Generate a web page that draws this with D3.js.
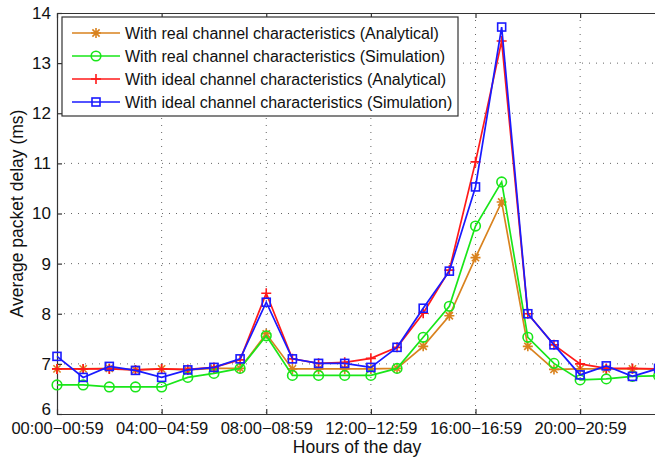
<!DOCTYPE html>
<html><head><meta charset="utf-8">
<script src="https://cdn.jsdelivr.net/npm/d3@7"></script>
<style>body{margin:0;background:#fff}svg{display:block}text{font-family:"Liberation Sans",Arial,sans-serif}</style>
</head><body><svg id="c" width="655" height="459"></svg>
<script>
const hours = d3.range(0,24);
const tickHours = [0,4,8,12,16,20];
const tickLabels = ["00:00\u221200:59","04:00\u221204:59","08:00\u221208:59","12:00\u221212:59","16:00\u221216:59","20:00\u221220:59"];
const yTicks = [6,7,8,9,10,11,12,13,14];
const realAnalytical = [6.9,6.9,6.91,6.88,6.9,6.88,6.91,6.91,7.6,6.9,6.9,6.9,6.9,6.91,7.35,7.96,9.12,10.23,7.35,6.89,6.9,6.9,6.9,6.9];
const realSimulation = [6.58,6.58,6.54,6.54,6.54,6.73,6.81,6.91,7.56,6.77,6.77,6.77,6.77,6.91,7.53,8.15,9.75,10.63,7.53,7.01,6.68,6.7,6.75,6.76];
const idealAnalytical = [6.9,6.9,6.9,6.88,6.9,6.89,6.93,7.08,8.41,7.1,7.01,7.03,7.11,7.33,8.01,8.87,11.03,13.44,8.0,7.38,7.0,6.91,6.91,6.9];
const idealSimulation = [7.15,6.73,6.95,6.87,6.73,6.88,6.93,7.1,8.23,7.1,7.01,7.01,6.93,7.33,8.11,8.85,10.53,13.72,8.0,7.38,6.78,6.96,6.75,6.91];
const seriesNames = ["With real channel characteristics (Analytical)","With real channel characteristics (Simulation)","With ideal channel characteristics (Analytical)","With ideal channel characteristics (Simulation)"];
const seriesColors = ["#d9821e","#19e619","#ff1a1a","#1a1aff"];
const seriesMarkers = ["star","circle","plus","square"];
const seriesData = [realAnalytical, realSimulation, idealAnalytical, idealSimulation];

const svg = d3.select("#c");
const L=57, T=13, R=658.6, B=414;
const x = d3.scaleLinear().domain([0,23]).range([L,R]);
const y = d3.scaleLinear().domain([6,14]).range([B,T]);

// grid
const g = svg.append("g");
g.selectAll(".gx").data(tickHours.slice(1)).enter().append("line")
 .attr("x1",d=>x(d)).attr("x2",d=>x(d)).attr("y1",T).attr("y2",B)
 .attr("stroke","#666").attr("stroke-width",1).attr("stroke-dasharray","1,6");
g.selectAll(".gy").data(yTicks.slice(1,-1)).enter().append("line")
 .attr("x1",L).attr("x2",R).attr("y1",d=>y(d)).attr("y2",d=>y(d))
 .attr("stroke","#666").attr("stroke-width",1).attr("stroke-dasharray","1,6");

// axes
const ax = svg.append("g").attr("transform",`translate(0,${B})`)
 .call(d3.axisBottom(x).tickValues(tickHours).tickFormat((d,i)=>tickLabels[i]).tickSizeInner(-5).tickSizeOuter(0).tickPadding(13));
const ay = svg.append("g").attr("transform",`translate(${L},0)`)
 .call(d3.axisLeft(y).tickValues(yTicks).tickFormat(d3.format("d")).tickSizeInner(-5).tickSizeOuter(0).tickPadding(6));
const at = svg.append("g").attr("transform",`translate(0,${T})`)
 .call(d3.axisTop(x).tickValues(tickHours).tickFormat("").tickSizeInner(-5).tickSizeOuter(0));
[ax,ay,at].forEach(a=>{a.selectAll("path,line").attr("stroke","#333").attr("stroke-width",1.2);
 a.selectAll("text").attr("fill","#111").style("font-size","16.5px").style("font-family","'Liberation Sans',Arial,sans-serif");});
ax.selectAll("text").attr("dy","0.4em");
ay.selectAll("text").style("font-size","17px").attr("dy",d=>d===6?"0em":"0.32em");

// lines
const line = d3.line().x((d,i)=>x(hours[i])).y(d=>y(d));
function marker(sel, type, color){
  if(type==="circle") sel.append("circle").attr("r",4.8).attr("fill","none").attr("stroke",color).attr("stroke-width",1.6);
  else if(type==="square") sel.append("rect").attr("x",-4).attr("y",-4).attr("width",8).attr("height",8).attr("fill","none").attr("stroke",color).attr("stroke-width",1.6);
  else if(type==="plus") sel.append("path").attr("d","M-5,0H5M0,-5V5").attr("stroke",color).attr("stroke-width",1.6);
  else if(type==="star") sel.append("path").attr("d","M-5,0H5M0,-5V5M-3.6,-3.6L3.6,3.6M-3.6,3.6L3.6,-3.6").attr("stroke",color).attr("stroke-width",1.6);
}
seriesData.forEach((data,k)=>{
  const s = svg.append("g");
  s.append("path").datum(data).attr("d",line).attr("fill","none").attr("stroke",seriesColors[k]).attr("stroke-width",1.7);
  s.selectAll("g.m").data(data).enter().append("g").attr("transform",(d,i)=>`translate(${x(hours[i])},${y(d)})`)
   .each(function(){marker(d3.select(this),seriesMarkers[k],seriesColors[k]);});
});

// legend
const lg = svg.append("g");
lg.append("rect").attr("x",62).attr("y",17).attr("width",396).attr("height",99).attr("fill","#fff").attr("stroke","#333").attr("stroke-width",1.2);
seriesNames.forEach((n,k)=>{
  const yy = 33 + k*23;
  lg.append("line").attr("x1",72).attr("x2",120).attr("y1",yy).attr("y2",yy).attr("stroke",seriesColors[k]).attr("stroke-width",1.7);
  const m = lg.append("g").attr("transform",`translate(96,${yy})`);
  marker(m, seriesMarkers[k], seriesColors[k]);
  lg.append("text").attr("x",125).attr("y",yy).attr("dy","0.36em").style("font-size","16px").attr("fill","#111").text(n);
});

// axis titles
svg.append("text").attr("x",357).attr("y",453).attr("text-anchor","middle").style("font-size","17.5px").attr("fill","#111").text("Hours of the day");
svg.append("text").attr("transform",`translate(23,${(T+B)/2}) rotate(-90)`).attr("text-anchor","middle").style("font-size","17.5px").attr("fill","#111").text("Average packet delay (ms)");
</script></body></html>
